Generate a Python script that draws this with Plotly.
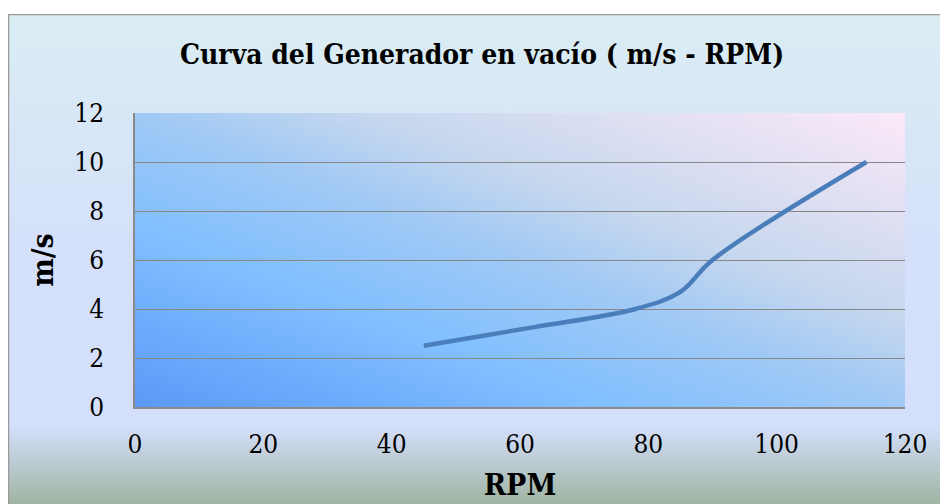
import base64
import plotly.graph_objects as go

# Curva del generador en vacío: velocidad (m/s) frente a RPM
rpm = [45, 62, 78, 85, 90, 114]
velocidad = [2.5, 3.25, 4.0, 4.7, 6.0, 10.0]

x_ticks = [0, 20, 40, 60, 80, 100, 120]
y_ticks = [0, 2, 4, 6, 8, 10, 12]

titulo = "Curva del Generador en vacío ( m/s - RPM)"
titulo_x = "RPM"
titulo_y = "m/s"

W, H = 940, 504
ML, MR, MT, MB = 135, 35, 113, 97
PW, PH = W - ML - MR, H - MT - MB


def svg_uri(svg):
    return "data:image/svg+xml;base64," + base64.b64encode(svg.encode()).decode()


# fondo del área del gráfico: degradado vertical con borde superior e izquierdo
cx0, cy0 = 8, 14
cw, ch = W - cx0 + 20, H - cy0
fondo_grafico = f"""<svg xmlns='http://www.w3.org/2000/svg' width='{cw}' height='{ch}' viewBox='0 0 {cw} {ch}' preserveAspectRatio='none'>
<defs><linearGradient id='g' x1='0' y1='0' x2='0' y2='1'>
<stop offset='0' stop-color='#daedf3'/>
<stop offset='0.45' stop-color='#d5e1fa'/>
<stop offset='0.84' stop-color='#d4dffc'/>
<stop offset='1' stop-color='#a0b4a2'/>
</linearGradient></defs>
<rect x='0' y='0' width='{cw}' height='{ch}' fill='url(#g)'/>
<line x1='0.5' y1='0' x2='0.5' y2='{ch}' stroke='#9a9a9a' stroke-width='1.5'/>
<line x1='0' y1='0.5' x2='{cw}' y2='0.5' stroke='#9a9a9a' stroke-width='1.5'/>
</svg>"""

# fondo del área de trazado: degradado diagonal azul a rosado
fondo_trazado = f"""<svg xmlns='http://www.w3.org/2000/svg' width='{PW}' height='{PH}' viewBox='0 0 {PW} {PH}' preserveAspectRatio='none'>
<defs><linearGradient id='p' x1='0' y1='1' x2='1' y2='0'>
<stop offset='0' stop-color='#5a99f8'/>
<stop offset='0.3' stop-color='#80bfff'/>
<stop offset='0.5' stop-color='#a0c9f5'/>
<stop offset='0.65' stop-color='#c6d7ee'/>
<stop offset='1' stop-color='#fce9f8'/>
</linearGradient></defs>
<rect x='0' y='0' width='{PW}' height='{PH}' fill='url(#p)'/>
</svg>"""

fig = go.Figure()
fig.add_trace(go.Scatter(
    x=rpm, y=velocidad, mode="lines",
    line=dict(color="#4a7ebb", width=4.5, shape="spline", smoothing=1),
    showlegend=False, hoverinfo="x+y",
))

fuente = "DejaVu Serif Condensed, DejaVu Serif"

fig.update_layout(
    width=W, height=H,
    margin=dict(l=ML, r=MR, t=MT, b=MB, autoexpand=False),
    paper_bgcolor="white",
    plot_bgcolor="rgba(0,0,0,0)",
    title=dict(
        text=titulo, xref="paper", x=(482 - ML) / PW, xanchor="center",
        yref="container", y=1 - 54 / H, yanchor="middle",
        font=dict(family=fuente, size=28, color="black", weight="bold"),
    ),
    images=[
        dict(source=svg_uri(fondo_grafico), xref="paper", yref="paper",
             x=(cx0 - ML) / PW, y=1 + (MT - cy0) / PH, sizex=cw / PW, sizey=ch / PH,
             xanchor="left", yanchor="top", sizing="stretch", layer="below"),
        dict(source=svg_uri(fondo_trazado), xref="paper", yref="paper",
             x=0, y=1, sizex=1, sizey=1,
             xanchor="left", yanchor="top", sizing="stretch", layer="below"),
    ],
    xaxis=dict(
        range=[0, 120], tickvals=x_ticks, ticktext=[str(v) for v in x_ticks],
        showgrid=False, zeroline=False, showline=True, linecolor="#8a8a8a", linewidth=1.5,
        ticks="", ticklabelstandoff=13, automargin=False,
        tickfont=dict(family=fuente, size=26, color="black"),
        title=dict(text=titulo_x, standoff=16,
                   font=dict(family=fuente, size=30, color="black", weight="bold")),
    ),
    yaxis=dict(
        range=[0, 12], tickvals=y_ticks, ticktext=[str(v) for v in y_ticks],
        showgrid=True, gridcolor="#878787", gridwidth=1.2,
        zeroline=False, showline=True, linecolor="#8a8a8a", linewidth=1.5,
        ticks="", ticklabelstandoff=24, automargin=False,
        tickfont=dict(family=fuente, size=26, color="black"),
        title=dict(text=titulo_y, standoff=12,
                   font=dict(family=fuente, size=30, color="black", weight="bold")),
    ),
)

fig.write_html("out.html")
